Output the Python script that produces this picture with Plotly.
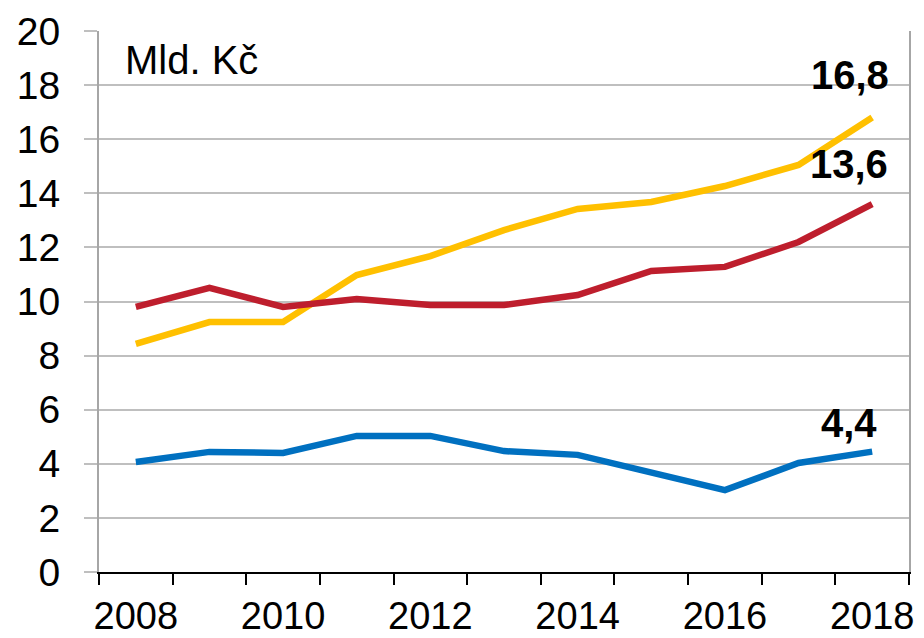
import plotly.graph_objects as go

years = [2008, 2009, 2010, 2011, 2012, 2013, 2014, 2015, 2016, 2017, 2018]
yellow = [8.43, 9.24, 9.24, 10.98, 11.68, 12.64, 13.42, 13.68, 14.27, 15.05, 16.8]
red = [9.80, 10.5, 9.80, 10.09, 9.87, 9.87, 10.24, 11.13, 11.28, 12.2, 13.6]
blue = [4.07, 4.44, 4.40, 5.03, 5.03, 4.47, 4.33, 3.70, 3.03, 4.03, 4.45]
tick_years = [2008, 2010, 2012, 2014, 2016, 2018]
end_labels = ["16,8", "13,6", "4,4"]
unit_label = "Mld. Kč"

FONT = "Liberation Sans, Arial, sans-serif"

fig = go.Figure()
series = [("Řada 1", yellow, "#FFC000"), ("Řada 2", red, "#BE1E2D"), ("Řada 3", blue, "#0070C0")]
for name, vals, col in series:
    fig.add_trace(go.Scatter(x=years, y=vals, mode="lines", name=name,
                             line=dict(color=col, width=6.5), showlegend=False))

shifts = [(-22, 43), (-23, 40), (-23, 29)]
for (name, vals, col), txt, (dx, dy) in zip(series, end_labels, shifts):
    fig.add_annotation(x=years[-1], y=vals[-1], text="<b>%s</b>" % txt, showarrow=False,
                       xanchor="center", yanchor="middle", xshift=dx, yshift=dy,
                       font=dict(family=FONT, size=40, color="black"))

fig.add_annotation(xref="paper", yref="paper", x=0.03, y=0.946, text=unit_label,
                   showarrow=False, xanchor="left", yanchor="middle",
                   font=dict(family=FONT, size=40, color="black"))

fig.update_layout(
    width=924, height=638,
    margin=dict(l=99, r=15, t=31, b=66),
    plot_bgcolor="white", paper_bgcolor="white",
    font=dict(family=FONT, size=39, color="black"),
    showlegend=False,
)
fig.update_xaxes(
    range=[years[0] - 0.5, years[-1] + 0.5], automargin=False,
    tickmode="array", tickvals=tick_years, ticktext=[str(y) for y in tick_years],
    tickfont=dict(size=38),
    ticks="", showgrid=False, zeroline=False,
    showline=True, linecolor="black", linewidth=2,
    ticklabelstandoff=9,
    minor=dict(ticks="outside", tick0=years[0] - 0.5, dtick=1, ticklen=11,
               tickcolor="black", tickwidth=2, showgrid=False),
)
fig.update_yaxes(
    range=[0, 20], tickmode="linear", tick0=0, dtick=2, automargin=False,
    ticks="outside", ticklen=13, tickcolor="#BFBFBF", tickwidth=2,
    showgrid=True, gridcolor="#BFBFBF", gridwidth=2,
    showline=True, linecolor="#A6A6A6", linewidth=2, mirror=True,
    zeroline=False, ticklabelstandoff=16,
)

fig.write_html("out.html", config={"displayModeBar": False},
               post_script="document.body.style.margin='0';")
